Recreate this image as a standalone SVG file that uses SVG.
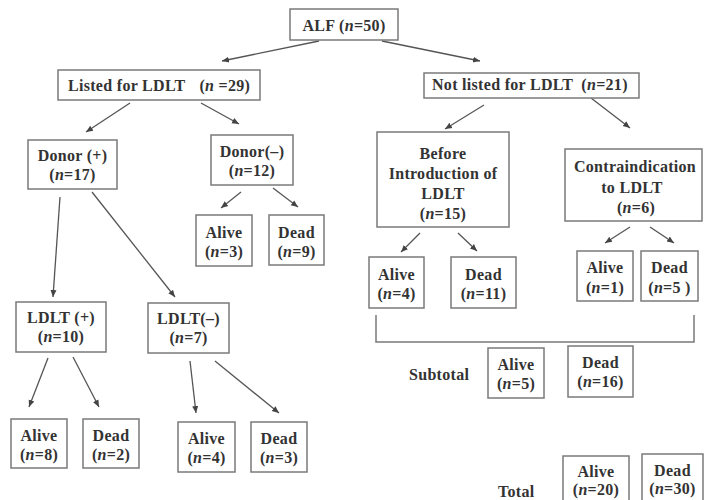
<svg xmlns="http://www.w3.org/2000/svg" width="704" height="500" viewBox="0 0 704 500">
<style>
.bg{fill:#ffffff}
.box{fill:#ffffff;stroke:#7a7a7a;stroke-width:1.5}
.t{font-family:"Liberation Serif","Times New Roman",serif;font-weight:bold;font-size:16px;fill:#333333;letter-spacing:0.3px}
.m{text-anchor:middle}
.i{font-style:italic}
.c{fill:none;stroke:#555555;stroke-width:1.3}
.br{fill:none;stroke:#7a7a7a;stroke-width:1.5}
</style>
<defs>
<marker id="ah" markerUnits="userSpaceOnUse" markerWidth="8" markerHeight="8" viewBox="0 0 8 8" refX="7" refY="4" orient="auto">
<path d="M0,1 L7,4 L0,7 Z" fill="#444444"/>
</marker>
</defs>
<rect class="bg" x="0" y="0" width="704" height="500"/>

<g id="connectors">
<line class="c" x1="319" y1="41" x2="222" y2="61" marker-end="url(#ah)"/>
<line class="c" x1="382" y1="41" x2="480" y2="61" marker-end="url(#ah)"/>
<line class="c" x1="130" y1="103" x2="86" y2="132" marker-end="url(#ah)"/>
<line class="c" x1="201" y1="103" x2="239" y2="124" marker-end="url(#ah)"/>
<line class="c" x1="484" y1="105" x2="445" y2="129" marker-end="url(#ah)"/>
<line class="c" x1="591" y1="98" x2="630" y2="128" marker-end="url(#ah)"/>
<line class="c" x1="60" y1="197" x2="53" y2="297" marker-end="url(#ah)"/>
<line class="c" x1="92" y1="192" x2="175" y2="297" marker-end="url(#ah)"/>
<line class="c" x1="241" y1="192" x2="221" y2="208" marker-end="url(#ah)"/>
<line class="c" x1="273" y1="188" x2="298" y2="207" marker-end="url(#ah)"/>
<line class="c" x1="420" y1="233" x2="401" y2="252" marker-end="url(#ah)"/>
<line class="c" x1="458" y1="233" x2="477" y2="251" marker-end="url(#ah)"/>
<line class="c" x1="630" y1="227" x2="605" y2="243" marker-end="url(#ah)"/>
<line class="c" x1="650" y1="227" x2="674" y2="243" marker-end="url(#ah)"/>
<line class="c" x1="48" y1="358" x2="29" y2="407" marker-end="url(#ah)"/>
<line class="c" x1="73" y1="357" x2="99" y2="407" marker-end="url(#ah)"/>
<line class="c" x1="190" y1="361" x2="196" y2="413" marker-end="url(#ah)"/>
<line class="c" x1="215" y1="361" x2="279" y2="413" marker-end="url(#ah)"/>
<polyline class="br" points="376,315 376,342 694,342 694,315"/>
</g>

<g id="alf">
<rect class="box" x="290" y="9" width="108" height="31"/>
<text class="t m" x="344" y="31">ALF (<tspan class="i">n</tspan>=50)</text>
</g>

<g id="listed">
<rect class="box" x="58" y="70" width="202" height="30"/>
<text class="t" x="68" y="91">Listed for LDLT<tspan dx="14">(</tspan><tspan class="i">n</tspan> =29)</text>
</g>

<g id="notlisted">
<rect class="box" x="424" y="73" width="215" height="25"/>
<text class="t" x="432" y="90">Not listed for LDLT<tspan dx="8">(</tspan><tspan class="i">n</tspan>=21)</text>
</g>

<g id="donor-pos">
<rect class="box" x="28" y="140" width="89" height="49"/>
<text class="t m" x="72.5" y="161">Donor (+)</text>
<text class="t m" x="72.5" y="180">(<tspan class="i">n</tspan>=17)</text>
</g>

<g id="donor-neg">
<rect class="box" x="211" y="135" width="82" height="50"/>
<text class="t m" x="252" y="157">Donor(–)</text>
<text class="t m" x="252" y="176">(<tspan class="i">n</tspan>=12)</text>
</g>

<g id="dneg-alive">
<rect class="box" x="196" y="215" width="56" height="51"/>
<text class="t m" x="224" y="238">Alive</text>
<text class="t m" x="224" y="257">(<tspan class="i">n</tspan>=3)</text>
</g>

<g id="dneg-dead">
<rect class="box" x="269" y="215" width="55" height="50"/>
<text class="t m" x="296.5" y="238">Dead</text>
<text class="t m" x="296.5" y="257">(<tspan class="i">n</tspan>=9)</text>
</g>

<g id="ldlt-pos">
<rect class="box" x="16" y="302" width="90" height="50"/>
<text class="t m" x="61" y="323">LDLT (+)</text>
<text class="t m" x="61" y="342">(<tspan class="i">n</tspan>=10)</text>
</g>

<g id="ldlt-neg">
<rect class="box" x="148" y="303" width="81" height="50"/>
<text class="t m" x="188.5" y="324">LDLT(–)</text>
<text class="t m" x="188.5" y="343">(<tspan class="i">n</tspan>=7)</text>
</g>

<g id="lpos-alive">
<rect class="box" x="11" y="419" width="56" height="49"/>
<text class="t m" x="39" y="441">Alive</text>
<text class="t m" x="39" y="460">(<tspan class="i">n</tspan>=8)</text>
</g>

<g id="lpos-dead">
<rect class="box" x="83" y="419" width="56" height="49"/>
<text class="t m" x="111" y="441">Dead</text>
<text class="t m" x="111" y="460">(<tspan class="i">n</tspan>=2)</text>
</g>

<g id="lneg-alive">
<rect class="box" x="178" y="422" width="57" height="50"/>
<text class="t m" x="206.5" y="444">Alive</text>
<text class="t m" x="206.5" y="463">(<tspan class="i">n</tspan>=4)</text>
</g>

<g id="lneg-dead">
<rect class="box" x="251" y="422" width="56" height="50"/>
<text class="t m" x="279" y="444">Dead</text>
<text class="t m" x="279" y="463">(<tspan class="i">n</tspan>=3)</text>
</g>

<g id="before">
<rect class="box" x="377" y="132" width="132" height="95"/>
<text class="t m" x="443" y="159">Before</text>
<text class="t m" x="443" y="179">Introduction of</text>
<text class="t m" x="443" y="199">LDLT</text>
<text class="t m" x="443" y="219">(<tspan class="i">n</tspan>=15)</text>
</g>

<g id="contra">
<rect class="box" x="565" y="149" width="137" height="72"/>
<text class="t m" x="635" y="172">Contraindication</text>
<text class="t m" x="632" y="193">to LDLT</text>
<text class="t m" x="636" y="213">(<tspan class="i">n</tspan>=6)</text>
</g>

<g id="before-alive">
<rect class="box" x="369" y="257" width="55" height="51"/>
<text class="t m" x="396.5" y="280">Alive</text>
<text class="t m" x="396.5" y="299">(<tspan class="i">n</tspan>=4)</text>
</g>

<g id="before-dead">
<rect class="box" x="451" y="257" width="65" height="51"/>
<text class="t m" x="483.5" y="280">Dead</text>
<text class="t m" x="483.5" y="299">(<tspan class="i">n</tspan>=11)</text>
</g>

<g id="contra-alive">
<rect class="box" x="577" y="251" width="56" height="50"/>
<text class="t m" x="605" y="273">Alive</text>
<text class="t m" x="605" y="293">(<tspan class="i">n</tspan>=1)</text>
</g>

<g id="contra-dead">
<rect class="box" x="641" y="251" width="57" height="50"/>
<text class="t m" x="669.5" y="273">Dead</text>
<text class="t m" x="669.5" y="293" xml:space="preserve">(<tspan class="i">n</tspan>=5 )</text>
</g>

<g id="subtotal">
<text class="t" x="409" y="380">Subtotal</text>
</g>

<g id="sub-alive">
<rect class="box" x="488" y="348" width="56" height="50"/>
<text class="t m" x="516" y="370">Alive</text>
<text class="t m" x="516" y="389">(<tspan class="i">n</tspan>=5)</text>
</g>

<g id="sub-dead">
<rect class="box" x="568" y="346" width="65" height="51"/>
<text class="t m" x="600.5" y="368">Dead</text>
<text class="t m" x="600.5" y="387">(<tspan class="i">n</tspan>=16)</text>
</g>

<g id="total">
<text class="t" x="498" y="497">Total</text>
</g>

<g id="tot-alive">
<rect class="box" x="563" y="456" width="66" height="54"/>
<text class="t m" x="596" y="477">Alive</text>
<text class="t m" x="596" y="495">(<tspan class="i">n</tspan>=20)</text>
</g>

<g id="tot-dead">
<rect class="box" x="642" y="454" width="61" height="56"/>
<text class="t m" x="672.5" y="476">Dead</text>
<text class="t m" x="672.5" y="494">(<tspan class="i">n</tspan>=30)</text>
</g>
</svg>
